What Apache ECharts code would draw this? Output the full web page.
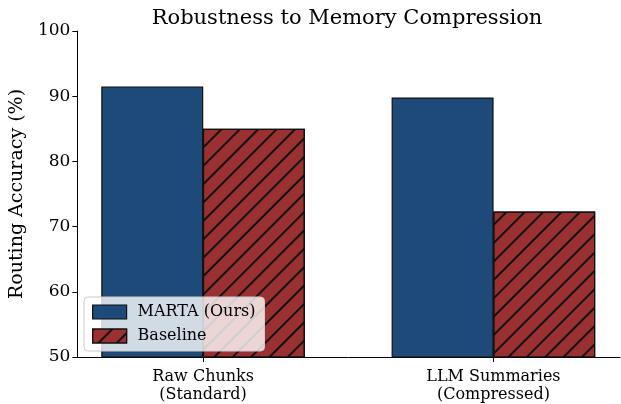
<!DOCTYPE html>
<html>
<head>
<meta charset="utf-8">
<script src="https://cdn.jsdelivr.net/npm/echarts@6/dist/echarts.min.js"></script>
<style>
  html, body { margin: 0; padding: 0; background: #fff; }
  #chart { width: 621px; height: 404px; }
</style>
</head>
<body>
<div id="chart"></div>
<script>
// data
const categories = ['Raw Chunks\n(Standard)', 'LLM Summaries\n(Compressed)']
const martaValues = [91.5, 89.8]
const baselineValues = [85.0, 72.3]
const seriesNames = ['MARTA (Ours)', 'Baseline']
const yTicks = [50, 60, 70, 80, 90, 100]

const FONT = 'DejaVu Serif'
const BAR_W = 0.35 // in category units
const blue = '#1d4a78'
const red = '#9b3030'

const hatch = {
  symbol: 'rect',
  symbolSize: 1,
  color: '#111',
  dashArrayX: [1, 0],
  dashArrayY: [1.4, 10.6],
  rotation: -Math.PI / 4,
}

const chart = echarts.init(document.getElementById('chart'))

// bar centre = category index -/+ half a bar
const toPoints = (vals, side) => vals.map((v, i) => [i + side * BAR_W / 2, v])

const barBase = {
  type: 'bar',
  barWidth: 102,
  barGap: '-100%',
  silent: true,
}

chart.setOption({
  animation: false,
  title: {
    text: 'Robustness to Memory Compression',
    left: 342,
    top: 3,
    textAlign: 'center',
    textStyle: { fontFamily: FONT, fontSize: 21, fontWeight: 'normal', color: '#000' },
  },
  grid: { left: 76, right: 1, top: 31, bottom: 46 },
  legend: {
    orient: 'vertical',
    left: 84,
    bottom: 53,
    icon: 'rect',
    itemWidth: 34,
    itemHeight: 14,
    itemGap: 8,
    padding: [7, 9, 7, 8],
    backgroundColor: 'rgba(255,255,255,0.8)',
    borderColor: '#cccccc',
    borderWidth: 1,
    borderRadius: 4,
    textStyle: { fontFamily: FONT, fontSize: 16, color: '#000', padding: [0, 0, 0, 6] },
    data: [
      { name: seriesNames[0], itemStyle: { color: blue, borderColor: '#111', borderWidth: 1.2 } },
      { name: seriesNames[1], itemStyle: { color: red, borderColor: '#111', borderWidth: 1.2, decal: hatch } },
    ],
  },
  xAxis: {
    type: 'value',
    min: -0.433,
    max: 1.436,
    splitLine: { show: false },
    axisLine: { show: true, onZero: false, lineStyle: { color: '#000', width: 1 } },
    axisTick: { show: true, length: 5, inside: false, customValues: [0, 1], lineStyle: { color: '#000' } },
    axisLabel: {
      customValues: [0, 1],
      formatter: v => categories[Math.round(v)],
      fontFamily: FONT,
      fontSize: 16,
      lineHeight: 18,
      color: '#000',
      margin: 11,
    },
  },
  yAxis: {
    type: 'value',
    min: yTicks[0],
    max: yTicks[yTicks.length - 1],
    interval: 10,
    name: 'Routing Accuracy (%)',
    nameLocation: 'middle',
    nameGap: 50,
    nameTextStyle: { fontFamily: FONT, fontSize: 19, color: '#000' },
    splitLine: { show: false },
    axisLine: { show: true, onZero: false, lineStyle: { color: '#000', width: 1 } },
    axisTick: { show: true, length: 5, lineStyle: { color: '#000' } },
    axisLabel: { fontFamily: FONT, fontSize: 17, color: '#000', margin: 7 },
  },
  series: [
    {
      ...barBase,
      name: seriesNames[0],
      data: toPoints(martaValues, -1),
      itemStyle: { color: blue, borderColor: '#111', borderWidth: 1.2 },
    },
    {
      ...barBase,
      name: seriesNames[1],
      data: toPoints(baselineValues, 1),
      itemStyle: { color: red, borderColor: '#111', borderWidth: 1.2, decal: hatch },
    },
  ],
})
</script>
</body>
</html>
